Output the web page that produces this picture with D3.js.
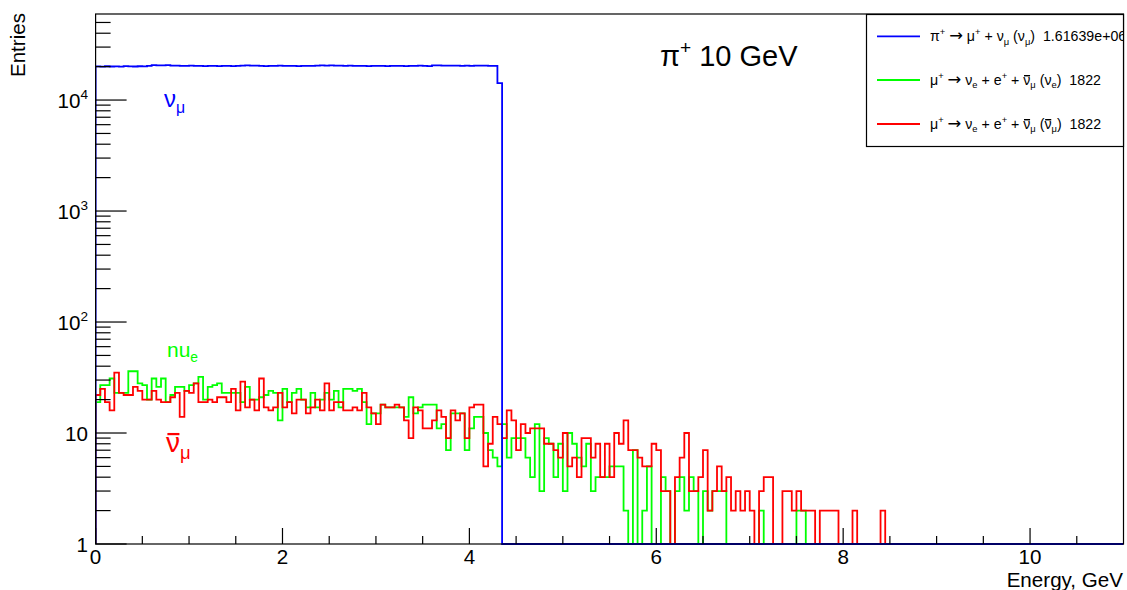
<!DOCTYPE html>
<html><head><meta charset="utf-8">
<script src="https://cdn.jsdelivr.net/npm/d3@7"></script>
<style>
body{margin:0;background:#fff}
svg{display:block}
text{font-family:"Liberation Sans",Arial,Helvetica,sans-serif;white-space:pre}
</style>
</head><body>
<svg id="c" width="1127" height="590"></svg>
<script>
// ---------------- data ----------------
const binWidth = 0.05;            // GeV
const xDomain = [0, 11];
const yDomain = [1, 59600];
const xMajorTicks = [0, 2, 4, 6, 8, 10];
const xMinorTicks = [0.5,1,1.5,2.5,3,3.5,4.5,5,5.5,6.5,7,7.5,8.5,9,9.5,10.5];
const yMajorTicks = [1, 10, 100, 1000, 10000];
const yMajorLabels = [["1",""],["10",""],["10","2"],["10","3"],["10","4"]];
const yMinorTicks = [2,3,4,5,6,7,8,9,20,30,40,50,60,70,80,90,200,300,400,500,600,700,800,900,
                     2000,3000,4000,5000,6000,7000,8000,9000,20000,30000,40000,50000];
const xTitle = "Energy, GeV";
const yTitle = "Entries";

// pi+ -> mu+ + nu_mu (nu_mu), bins of 0.05 GeV starting at 0
const numuValues = [
 20100,20000,20150,20050,20100,20000,20200,20100,20050,20150,
 20100,20300,20600,20500,20550,20600,20400,20450,20350,20300,
 20400,20350,20300,20250,20350,20300,20200,20350,20300,20250,
 20300,20400,20500,20450,20400,20300,20250,20350,20300,20400,
 20350,20300,20350,20250,20300,20350,20300,20450,20500,20400,
 20550,20450,20400,20350,20400,20300,20350,20300,20250,20300,
 20350,20300,20250,20350,20300,20300,20250,20300,20350,20400,
 20300,20250,20500,20550,20400,20400,20450,20400,20350,20400,
 20350,20400,20450,20400,20350,20300,14200
];
// mu+ -> nu_e + e+ + nubar_mu (nu_e)
const nueValues = [
 19,27,27,31,23,23,23,36,36,28,
 27,20,31,26,31,19,22,26,26,24,
 27,28,32,20,26,27,28,23,23,23,
 23,19,26,20,20,21,22,24,23,13,
 25,19,23,25,20,17,23,17,20,23,
 20,24,17,25,25,24,25,19,12,15,
 15,18,17,17,17,17,14,21,15,17,
 18,18,18,11,12,7,15,15,15,7,
 11,14,14,10,7,6,5,12,6,9,
 9,9,6,4,12,3,9,8,4,8,
 3,10,8,6,5,8,3,4,4,4,
 5,5,5,2,0,7,0,2,5,0,
 0,4,3,0,3,4,2,4,3,0,
 3,2,3,3,3,0,0,0,0,0,
 0,0,2,0,0,0,0,0,0,0,
 2,2
];
// mu+ -> nu_e + e+ + nubar_mu (nubar_mu)
const numubarValues = [
 22,25,19,16,35,23,22,22,26,24,
 20,20,24,20,19,19,21,23,14,24,
 23,28,19,19,20,19,21,21,19,25,
 16,29,17,20,16,31,17,16,17,23,
 17,19,15,20,20,15,17,20,16,28,
 16,19,19,16,16,17,16,23,17,15,
 12,18,17,17,18,17,13,9,17,16,
 11,11,13,16,14,9,16,13,15,9,
 17,18,18,5,8,14,12,9,16,13,
 7,12,10,11,11,11,8,8,7,6,
 10,5,6,4,9,9,6,8,4,8,
 4,10,8,13,7,7,6,5,5,8,
 7,3,3,0,4,6,10,3,3,4,
 7,2,3,5,3,4,2,3,2,3,
 2,0,3,4,4,0,0,3,3,2,
 3,2,2,2,0,2,2,2,2,0,
 0,0,2,0,0,0,0,0,2
];

const seriesInfo = [
  {name:"numu",    values:numuValues,    color:"#0000ff", total:"1.61639e+06"},
  {name:"nue",     values:nueValues,     color:"#00ff00", total:"1822"},
  {name:"numubar", values:numubarValues, color:"#ff0000", total:"1822"}
];

// ---------------- layout ----------------
const W = 1127, H = 590;
const P = {left:95.6, right:1123.5, top:14, bottom:544};
const FONT = 20.6;

const svg = d3.select("#c");
const x = d3.scaleLinear().domain(xDomain).range([P.left, P.right]);
const y = d3.scaleLog().domain(yDomain).range([P.bottom, P.top]);

svg.append("defs").append("clipPath").attr("id","frameClip")
  .append("rect").attr("x",P.left).attr("y",P.top-1).attr("width",P.right-P.left).attr("height",P.bottom-P.top+2);
svg.select("defs").append("clipPath").attr("id","padClip")
  .append("rect").attr("x",0).attr("y",0).attr("width",1124).attr("height",H);

// rich text helper: segments {t, sub, sup, bar, arrow}
function rich(parent, segs, size, ax, ay, color, anchor){
  const t = parent.append("text").attr("x",ax).attr("y",ay)
     .attr("fill",color||"#000").attr("text-anchor",anchor||"start")
     .style("font-size",size+"px");
  let off = 0, idx = 0; const bars = [];
  segs.forEach(s=>{
    const target = s.sub ? 0.25*size : (s.sup ? -0.42*size : 0);
    const fs = s.sub||s.sup ? 0.66*size : (s.arrow ? 1.15*size : size);
    const ts = t.append("tspan").attr("dy", (target-off).toFixed(2))
      .style("font-size", fs+"px").text(s.t);
    if (s.arrow) ts.style("font-family","'DejaVu Sans',sans-serif");
    off = target;
    if (s.bar) bars.push({idx, size: fs, off:target});
    idx += s.t.length;
  });
  bars.forEach(b=>{
    const e = t.node().getExtentOfChar(b.idx);
    const by = ay + b.off - 0.64*b.size;
    parent.append("line").attr("x1",e.x+0.05*b.size).attr("x2",e.x+e.width-0.02*b.size)
      .attr("y1",by).attr("y2",by).attr("stroke",color||"#000").attr("stroke-width",Math.max(1.4,0.08*b.size));
  });
  return t;
}

// ---------------- histograms ----------------
const nBins = Math.round((xDomain[1]-xDomain[0])/binWidth);
function histPath(vals){
  const yv = v => (v > yDomain[0] ? y(v) : y(yDomain[0]));
  const pts = [[x(xDomain[0]), y(yDomain[0])]];
  for (let i=0;i<nBins;i++){
    const v = i < vals.length ? vals[i] : 0;
    pts.push([x(xDomain[0]+i*binWidth), yv(v)], [x(xDomain[0]+(i+1)*binWidth), yv(v)]);
  }
  pts.push([x(xDomain[1]), y(yDomain[0])]);
  return d3.line()(pts);
}
const hg = svg.append("g").attr("clip-path","url(#frameClip)");
[seriesInfo[1], seriesInfo[2], seriesInfo[0]].forEach(s=>{
  hg.append("path").attr("d",histPath(s.values)).attr("fill","none")
    .attr("stroke",s.color).attr("stroke-width",1.8).attr("stroke-linejoin","miter");
});

// ---------------- frame & axes ----------------
svg.append("rect").attr("x",P.left).attr("y",P.top).attr("width",P.right-P.left).attr("height",P.bottom-P.top)
  .attr("fill","none").attr("stroke","#000").attr("stroke-width",1.2);

const ax = svg.append("g").attr("stroke","#000").attr("stroke-width",1.2);
xMajorTicks.forEach(v=>ax.append("line").attr("x1",x(v)).attr("x2",x(v)).attr("y1",P.bottom).attr("y2",P.bottom-16));
xMinorTicks.forEach(v=>ax.append("line").attr("x1",x(v)).attr("x2",x(v)).attr("y1",P.bottom).attr("y2",P.bottom-8));
yMajorTicks.forEach(v=>ax.append("line").attr("x1",P.left).attr("x2",P.left+31).attr("y1",y(v)).attr("y2",y(v)));
yMinorTicks.forEach(v=>ax.append("line").attr("x1",P.left).attr("x2",P.left+15).attr("y1",y(v)).attr("y2",y(v)));

xMajorTicks.forEach(v=>{
  svg.append("text").attr("x",x(v)).attr("y",P.bottom+20).attr("text-anchor","middle")
    .style("font-size",FONT+"px").text(String(v));
});
yMajorTicks.forEach((v,i)=>{
  const lab = yMajorLabels[i];
  const segs = [{t:lab[0]}]; if (lab[1]) segs.push({t:lab[1], sup:true});
  rich(svg, segs, FONT, 88, y(v)+7.5, "#000", "end");
});
svg.append("text").attr("x",1123).attr("y",587).attr("text-anchor","end").style("font-size",FONT+"px").text(xTitle);
svg.append("text").attr("transform","translate(25,13) rotate(-90)").attr("text-anchor","end")
  .style("font-size",FONT+"px").text(yTitle);

// ---------------- annotations ----------------
rich(svg, [{t:"π"},{t:"+",sup:true},{t:" 10 GeV"}], 29, 660, 66, "#000");
rich(svg, [{t:"ν"},{t:"μ",sub:true}], 24, 164, 107, "#0000ff");
rich(svg, [{t:"nu"},{t:"e",sub:true}], 21, 167, 357, "#00ff00");
rich(svg, [{t:"ν",bar:true},{t:"μ",sub:true}], 28, 166, 452, "#ff0000");

// ---------------- legend ----------------
const lg = svg.append("g");
lg.append("rect").attr("x",866.5).attr("y",14.5).attr("width",1123.5-866.5).attr("height",146.5-14.5)
  .attr("fill","#fff").attr("stroke","#000").attr("stroke-width",1.2);
const legendRows = [
  [{t:"π"},{t:"+",sup:true},{t:" "},{t:"→",arrow:true},{t:" μ"},{t:"+",sup:true},{t:" + ν"},{t:"μ",sub:true},{t:" (ν"},{t:"μ",sub:true},{t:")  "+seriesInfo[0].total}],
  [{t:"μ"},{t:"+",sup:true},{t:" "},{t:"→",arrow:true},{t:" ν"},{t:"e",sub:true},{t:" + e"},{t:"+",sup:true},{t:" + "},{t:"ν",bar:true},{t:"μ",sub:true},{t:" (ν"},{t:"e",sub:true},{t:")  "+seriesInfo[1].total}],
  [{t:"μ"},{t:"+",sup:true},{t:" "},{t:"→",arrow:true},{t:" ν"},{t:"e",sub:true},{t:" + e"},{t:"+",sup:true},{t:" + "},{t:"ν",bar:true},{t:"μ",sub:true},{t:" ("},{t:"ν",bar:true},{t:"μ",sub:true},{t:")  "+seriesInfo[2].total}]
];
const rowY = [36.3, 80, 124];
const lgText = lg.append("g").attr("clip-path","url(#padClip)");
seriesInfo.forEach((s,i)=>{
  lg.append("line").attr("x1",877).attr("x2",920).attr("y1",rowY[i]).attr("y2",rowY[i])
    .attr("stroke",s.color).attr("stroke-width",1.8);
  rich(lgText, legendRows[i], 14.2, 930, rowY[i]+4.8, "#000");
});
</script>
</body></html>
